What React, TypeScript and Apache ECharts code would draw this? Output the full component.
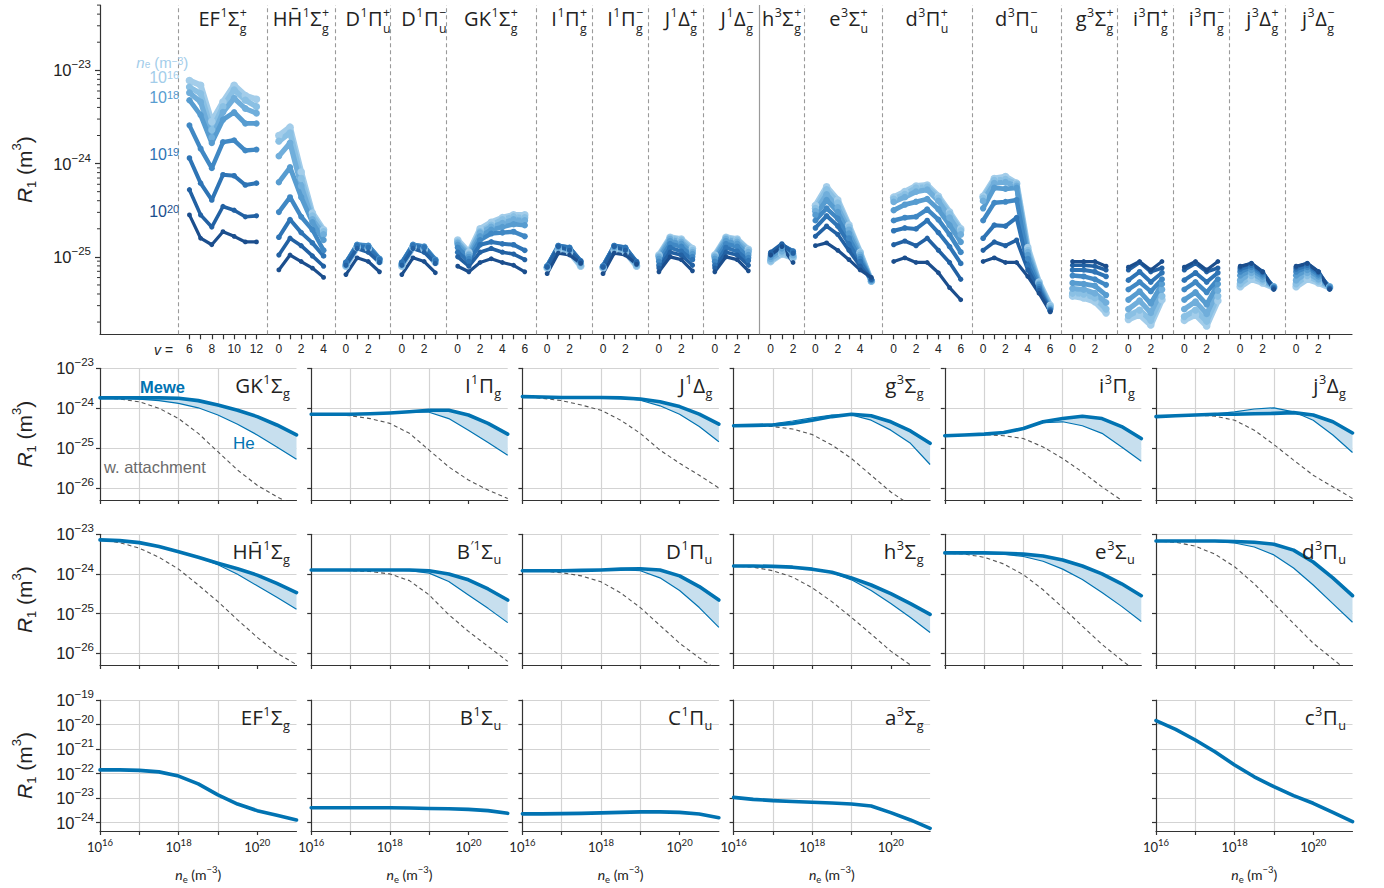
import React, { useEffect, useRef } from "react";
import * as echarts from "echarts";

// ================= TOP PANEL DATA (log10 of R1 in m^3) =================
// rows: electron density levels 1e16, 1e17, 3e17, 1e18, 3e18, 1e19, 3e19, 1e20 m^-3
const NE_LEVELS = ["1e16", "1e17", "3e17", "1e18", "3e18", "1e19", "3e19", "1e20"];
const LEVEL_COLORS = ["#a3cdea", "#8ac0e4", "#70aedb", "#579cd0", "#4088c4", "#2e74b5", "#2261a3", "#1b4e8d"];
const LEVEL_WIDTHS = [6, 5.6, 5.2, 4.8, 4.4, 4.0, 3.6, 3.2];
const LABELLED_LEVELS = [
  { level: 0, exp: "16" },
  { level: 3, exp: "18" },
  { level: 5, exp: "19" },
  { level: 7, exp: "20" },
];

const STATE_TITLES = [
  "EF^1Σ_g^+", "HH\u0304^1Σ_g^+", "D^1Π_u^+", "D^1Π_u^−", "GK^1Σ_g^+", "I^1Π_g^+", "I^1Π_g^−",
  "J^1Δ_g^+", "J^1Δ_g^−", "h^3Σ_g^+", "e^3Σ_u^+", "d^3Π_u^+", "d^3Π_u^−", "g^3Σ_g^+",
  "i^3Π_g^+", "i^3Π_g^−", "j^3Δ_g^+", "j^3Δ_g^−",
];
const STATE_V = [
  [6, 7, 8, 9, 10, 11, 12], [0, 1, 2, 3, 4], [0, 1, 2, 3], [0, 1, 2, 3], [0, 1, 2, 3, 4, 5, 6],
  [0, 1, 2, 3], [0, 1, 2, 3], [0, 1, 2, 3], [0, 1, 2, 3], [0, 1, 2], [0, 1, 2, 3, 4, 5],
  [0, 1, 2, 3, 4, 5, 6], [0, 1, 2, 3, 4, 5, 6], [0, 1, 2, 3], [0, 1, 2, 3], [0, 1, 2, 3],
  [0, 1, 2, 3], [0, 1, 2, 3],
];
const SINGLET_TRIPLET_BOUNDARY = 9; // solid separator before h3Σ

const LOG_R1_EF = [
  [-23.11, -23.16, -23.55, -23.34, -23.16, -23.27, -23.31],
  [-23.18, -23.25, -23.64, -23.39, -23.21, -23.32, -23.39],
  [-23.24, -23.34, -23.72, -23.45, -23.30, -23.41, -23.46],
  [-23.32, -23.48, -23.78, -23.53, -23.45, -23.57, -23.57],
  [-23.59, -23.84, -24.05, -23.77, -23.75, -23.86, -23.85],
  [-23.94, -24.21, -24.39, -24.12, -24.13, -24.23, -24.21],
  [-24.28, -24.55, -24.68, -24.46, -24.50, -24.57, -24.56],
  [-24.55, -24.80, -24.87, -24.73, -24.78, -24.84, -24.84],
];
const LOG_R1_HH = [
  [-23.70, -23.61, -24.09, -24.53, -24.71],
  [-23.76, -23.67, -24.16, -24.56, -24.73],
  [-23.92, -23.78, -24.24, -24.60, -24.76],
  [-24.20, -24.04, -24.36, -24.63, -24.82],
  [-24.52, -24.36, -24.57, -24.71, -24.93],
  [-24.79, -24.60, -24.74, -24.85, -24.99],
  [-24.98, -24.80, -24.88, -24.99, -25.10],
  [-25.14, -24.98, -25.05, -25.12, -25.22],
];
const LOG_R1_D_PLUS = [
  [-25.10, -24.90, -24.91, -25.05],
  [-25.09, -24.89, -24.90, -25.04],
  [-25.09, -24.88, -24.89, -25.03],
  [-25.07, -24.87, -24.88, -25.02],
  [-25.06, -24.87, -24.88, -25.02],
  [-25.06, -24.88, -24.90, -25.03],
  [-25.09, -24.91, -24.95, -25.06],
  [-25.19, -25.01, -25.05, -25.16],
];
const LOG_R1_D_MINUS = [
  [-25.10, -24.90, -24.92, -25.06],
  [-25.09, -24.89, -24.91, -25.05],
  [-25.08, -24.88, -24.90, -25.04],
  [-25.07, -24.87, -24.89, -25.03],
  [-25.06, -24.87, -24.89, -25.03],
  [-25.06, -24.88, -24.90, -25.04],
  [-25.09, -24.91, -24.95, -25.07],
  [-25.19, -25.01, -25.05, -25.17],
];
const LOG_R1_GK = [
  [-24.82, -24.95, -24.70, -24.63, -24.58, -24.55, -24.55],
  [-24.84, -24.97, -24.73, -24.66, -24.60, -24.57, -24.58],
  [-24.85, -24.98, -24.74, -24.68, -24.64, -24.60, -24.61],
  [-24.87, -25.00, -24.78, -24.71, -24.68, -24.65, -24.66],
  [-24.90, -25.02, -24.82, -24.75, -24.74, -24.73, -24.78],
  [-24.95, -25.05, -24.87, -24.84, -24.86, -24.87, -24.93],
  [-25.00, -25.10, -24.95, -24.91, -24.95, -24.97, -25.03],
  [-25.10, -25.16, -25.06, -25.02, -25.06, -25.09, -25.16],
];
const LOG_R1_I_PLUS = [
  [-25.12, -24.93, -24.95, -25.10],
  [-25.11, -24.91, -24.94, -25.09],
  [-25.11, -24.90, -24.93, -25.07],
  [-25.10, -24.89, -24.91, -25.06],
  [-25.10, -24.88, -24.90, -25.05],
  [-25.10, -24.88, -24.90, -25.04],
  [-25.11, -24.89, -24.93, -25.05],
  [-25.18, -24.96, -24.98, -25.07],
];
const LOG_R1_I_MINUS = [
  [-25.12, -24.93, -24.95, -25.10],
  [-25.11, -24.91, -24.94, -25.09],
  [-25.11, -24.90, -24.93, -25.08],
  [-25.10, -24.89, -24.91, -25.07],
  [-25.10, -24.88, -24.90, -25.06],
  [-25.10, -24.88, -24.90, -25.05],
  [-25.11, -24.89, -24.93, -25.06],
  [-25.18, -24.96, -24.98, -25.08],
];
const LOG_R1_J_PLUS = [
  [-24.98, -24.79, -24.81, -24.91],
  [-24.99, -24.80, -24.82, -24.93],
  [-25.00, -24.81, -24.84, -24.95],
  [-25.02, -24.83, -24.86, -24.97],
  [-25.05, -24.86, -24.89, -25.00],
  [-25.09, -24.90, -24.94, -25.03],
  [-25.12, -24.95, -24.98, -25.09],
  [-25.16, -25.00, -25.03, -25.15],
];
const LOG_R1_J_MINUS = [
  [-24.98, -24.79, -24.81, -24.92],
  [-24.99, -24.80, -24.82, -24.93],
  [-25.00, -24.81, -24.84, -24.95],
  [-25.02, -24.83, -24.86, -24.98],
  [-25.05, -24.86, -24.89, -25.01],
  [-25.09, -24.90, -24.94, -25.04],
  [-25.12, -24.95, -24.98, -25.09],
  [-25.16, -25.00, -25.03, -25.15],
];
const LOG_R1_h = [
  [-25.05, -24.97, -25.01],
  [-25.04, -24.96, -25.00],
  [-25.02, -24.94, -24.98],
  [-25.00, -24.91, -24.96],
  [-24.98, -24.88, -24.94],
  [-24.96, -24.87, -24.94],
  [-24.95, -24.86, -24.96],
  [-24.98, -24.89, -25.06],
];
const LOG_R1_e = [
  [-24.45, -24.25, -24.39, -24.66, -24.95, -25.26],
  [-24.48, -24.28, -24.42, -24.68, -24.96, -25.26],
  [-24.51, -24.33, -24.47, -24.71, -24.98, -25.26],
  [-24.55, -24.39, -24.52, -24.75, -25.00, -25.25],
  [-24.61, -24.48, -24.59, -24.80, -25.02, -25.25],
  [-24.69, -24.56, -24.67, -24.86, -25.05, -25.24],
  [-24.78, -24.67, -24.76, -24.93, -25.10, -25.24],
  [-24.88, -24.85, -24.93, -25.03, -25.14, -25.22],
];
const LOG_R1_d_PLUS = [
  [-24.36, -24.30, -24.24, -24.23, -24.35, -24.52, -24.70],
  [-24.38, -24.33, -24.26, -24.25, -24.37, -24.54, -24.72],
  [-24.41, -24.36, -24.30, -24.28, -24.40, -24.58, -24.76],
  [-24.50, -24.44, -24.41, -24.38, -24.49, -24.66, -24.84],
  [-24.61, -24.58, -24.57, -24.49, -24.60, -24.76, -24.95],
  [-24.72, -24.69, -24.70, -24.61, -24.74, -24.89, -25.07],
  [-24.87, -24.83, -24.88, -24.80, -24.93, -25.06, -25.24],
  [-25.05, -25.01, -25.06, -25.06, -25.17, -25.33, -25.46],
];
const LOG_R1_d_MINUS = [
  [-24.35, -24.16, -24.14, -24.21, -24.90, -25.27, -25.52],
  [-24.37, -24.18, -24.17, -24.22, -24.93, -25.28, -25.53],
  [-24.40, -24.21, -24.20, -24.24, -24.95, -25.29, -25.55],
  [-24.48, -24.26, -24.27, -24.26, -24.98, -25.30, -25.56],
  [-24.61, -24.42, -24.41, -24.39, -25.02, -25.32, -25.57],
  [-24.80, -24.66, -24.67, -24.58, -25.09, -25.34, -25.57],
  [-24.93, -24.84, -24.88, -24.82, -25.14, -25.36, -25.58],
  [-25.05, -25.01, -25.06, -25.06, -25.21, -25.39, -25.59],
];
const LOG_R1_g = [
  [-25.42, -25.44, -25.48, -25.60],
  [-25.39, -25.40, -25.44, -25.56],
  [-25.34, -25.35, -25.39, -25.49],
  [-25.28, -25.29, -25.31, -25.41],
  [-25.20, -25.21, -25.24, -25.30],
  [-25.14, -25.14, -25.16, -25.21],
  [-25.09, -25.09, -25.10, -25.14],
  [-25.05, -25.05, -25.05, -25.10],
];
const LOG_R1_i_PLUS = [
  [-25.67, -25.62, -25.73, -25.46],
  [-25.63, -25.57, -25.68, -25.42],
  [-25.56, -25.47, -25.60, -25.35],
  [-25.46, -25.37, -25.50, -25.29],
  [-25.35, -25.27, -25.37, -25.24],
  [-25.25, -25.16, -25.27, -25.17],
  [-25.14, -25.06, -25.16, -25.12],
  [-25.11, -25.05, -25.14, -25.05],
];
const LOG_R1_i_MINUS = [
  [-25.68, -25.62, -25.74, -25.47],
  [-25.64, -25.57, -25.69, -25.42],
  [-25.56, -25.48, -25.61, -25.36],
  [-25.46, -25.38, -25.51, -25.29],
  [-25.35, -25.27, -25.38, -25.24],
  [-25.25, -25.17, -25.27, -25.17],
  [-25.14, -25.07, -25.16, -25.12],
  [-25.11, -25.05, -25.14, -25.05],
];
const LOG_R1_j_PLUS = [
  [-25.32, -25.24, -25.28, -25.33],
  [-25.29, -25.20, -25.26, -25.32],
  [-25.25, -25.17, -25.24, -25.32],
  [-25.20, -25.14, -25.21, -25.32],
  [-25.16, -25.11, -25.19, -25.33],
  [-25.13, -25.09, -25.17, -25.33],
  [-25.11, -25.07, -25.16, -25.34],
  [-25.10, -25.07, -25.16, -25.35],
];
const LOG_R1_j_MINUS = [
  [-25.32, -25.24, -25.28, -25.33],
  [-25.29, -25.20, -25.26, -25.32],
  [-25.25, -25.17, -25.24, -25.32],
  [-25.20, -25.14, -25.21, -25.32],
  [-25.16, -25.11, -25.19, -25.33],
  [-25.13, -25.09, -25.17, -25.34],
  [-25.11, -25.07, -25.16, -25.34],
  [-25.10, -25.07, -25.16, -25.35],
];
const STATE_DATA = [
  LOG_R1_EF, LOG_R1_HH, LOG_R1_D_PLUS, LOG_R1_D_MINUS, LOG_R1_GK, LOG_R1_I_PLUS, LOG_R1_I_MINUS,
  LOG_R1_J_PLUS, LOG_R1_J_MINUS, LOG_R1_h, LOG_R1_e, LOG_R1_d_PLUS, LOG_R1_d_MINUS, LOG_R1_g,
  LOG_R1_i_PLUS, LOG_R1_i_MINUS, LOG_R1_j_PLUS, LOG_R1_j_MINUS,
];

// ================= SMALL PANELS DATA (log10 ne and log10 R1) =================
const LOG_NE = [16, 16.5, 17, 17.5, 18, 18.5, 19, 19.5, 20, 20.5, 21];

const GK_MEWE = [-23.74, -23.74, -23.74, -23.74, -23.75, -23.81, -23.92, -24.05, -24.21, -24.42, -24.67];
const GK_HE = [-23.74, -23.74, -23.77, -23.81, -23.88, -23.99, -24.17, -24.40, -24.67, -24.97, -25.28];
const GK_ATT = [-23.74, -23.77, -23.84, -24.00, -24.26, -24.63, -25.09, -25.55, -25.93, -26.22, -26.47];

const I1_MEWE = [-24.15, -24.15, -24.15, -24.14, -24.12, -24.09, -24.05, -24.05, -24.17, -24.38, -24.65];
const I1_HE = [-24.15, -24.15, -24.15, -24.14, -24.12, -24.10, -24.10, -24.26, -24.55, -24.86, -25.18];
const I1_ATT = [-24.15, -24.15, -24.19, -24.26, -24.38, -24.63, -25.05, -25.47, -25.80, -26.05, -26.26];

const J1_MEWE = [-23.71, -23.72, -23.73, -23.73, -23.73, -23.74, -23.77, -23.84, -23.96, -24.15, -24.40];
const J1_HE = [-23.71, -23.72, -23.73, -23.73, -23.73, -23.74, -23.80, -23.94, -24.15, -24.46, -24.84];
const J1_ATT = [-23.71, -23.75, -23.81, -23.92, -24.05, -24.30, -24.63, -25.05, -25.38, -25.68, -26.00];

const G3_MEWE = [-24.44, -24.43, -24.42, -24.38, -24.30, -24.21, -24.15, -24.19, -24.34, -24.57, -24.88];
const G3_HE = [-24.44, -24.42, -24.39, -24.32, -24.24, -24.17, -24.17, -24.30, -24.55, -24.88, -25.41];
const G3_ATT = [-24.44, -24.45, -24.46, -24.52, -24.66, -24.92, -25.26, -25.68, -26.10, -26.43, -26.77];

const I3_MEWE = [-24.69, -24.67, -24.65, -24.61, -24.51, -24.34, -24.26, -24.20, -24.26, -24.46, -24.76];
const I3_HE = [-24.69, -24.67, -24.65, -24.61, -24.51, -24.36, -24.34, -24.44, -24.63, -24.97, -25.33];
const I3_ATT = [-24.69, -24.67, -24.66, -24.69, -24.76, -24.97, -25.26, -25.60, -25.97, -26.31, -26.60];

const J3_MEWE = [-24.21, -24.19, -24.17, -24.15, -24.15, -24.14, -24.13, -24.11, -24.17, -24.34, -24.62];
const J3_HE = [-24.21, -24.19, -24.17, -24.14, -24.09, -24.02, -23.99, -24.09, -24.30, -24.67, -25.11];
const J3_ATT = [-24.21, -24.19, -24.17, -24.20, -24.30, -24.55, -24.91, -25.30, -25.68, -25.97, -26.26];

const HH_MEWE = [-23.14, -23.16, -23.21, -23.31, -23.44, -23.58, -23.73, -23.87, -24.03, -24.24, -24.47];
const HH_HE = [-23.14, -23.16, -23.21, -23.31, -23.44, -23.58, -23.77, -24.01, -24.30, -24.59, -24.89];
const HH_ATT = [-23.14, -23.21, -23.35, -23.58, -23.88, -24.28, -24.70, -25.16, -25.60, -26.00, -26.29];

const BP_MEWE = [-23.90, -23.90, -23.90, -23.90, -23.90, -23.90, -23.92, -24.00, -24.15, -24.38, -24.66];
const BP_HE = [-23.90, -23.90, -23.90, -23.90, -23.90, -23.92, -23.98, -24.19, -24.53, -24.87, -25.23];
const BP_ATT = [-23.90, -23.90, -23.92, -23.94, -24.00, -24.17, -24.53, -25.03, -25.45, -25.83, -26.21];

const D1_MEWE = [-23.92, -23.92, -23.92, -23.91, -23.90, -23.88, -23.87, -23.90, -24.05, -24.32, -24.66];
const D1_HE = [-23.92, -23.92, -23.92, -23.91, -23.90, -23.89, -23.92, -24.10, -24.42, -24.85, -25.35];
const D1_ATT = [-23.92, -23.93, -23.97, -24.05, -24.20, -24.48, -24.85, -25.30, -25.75, -26.12, -26.45];

const H3_MEWE = [-23.80, -23.80, -23.81, -23.83, -23.88, -23.96, -24.10, -24.28, -24.50, -24.75, -25.02];
const H3_HE = [-23.80, -23.80, -23.81, -23.83, -23.88, -23.97, -24.15, -24.42, -24.75, -25.10, -25.48];
const H3_ATT = [-23.80, -23.83, -23.92, -24.08, -24.35, -24.70, -25.10, -25.52, -25.95, -26.30, -26.65];

const E3_MEWE = [-23.47, -23.47, -23.47, -23.48, -23.50, -23.55, -23.65, -23.80, -24.00, -24.25, -24.55];
const E3_HE = [-23.47, -23.47, -23.48, -23.50, -23.56, -23.68, -23.88, -24.14, -24.47, -24.82, -25.20];
const E3_ATT = [-23.47, -23.50, -23.58, -23.75, -24.02, -24.40, -24.85, -25.32, -25.78, -26.18, -26.55];

const D3_MEWE = [-23.17, -23.17, -23.17, -23.17, -23.18, -23.20, -23.25, -23.40, -23.70, -24.10, -24.55];
const D3_HE = [-23.17, -23.17, -23.17, -23.18, -23.22, -23.32, -23.52, -23.85, -24.28, -24.75, -25.22];
const D3_ATT = [-23.17, -23.20, -23.30, -23.50, -23.82, -24.25, -24.75, -25.25, -25.75, -26.15, -26.55];

const EF_TOTAL = [-21.85, -21.85, -21.87, -21.93, -22.10, -22.42, -22.87, -23.24, -23.51, -23.70, -23.89];
const B1_TOTAL = [-23.39, -23.39, -23.39, -23.39, -23.39, -23.40, -23.42, -23.43, -23.46, -23.51, -23.62];
const C1_TOTAL = [-23.64, -23.64, -23.63, -23.62, -23.60, -23.58, -23.56, -23.56, -23.58, -23.65, -23.80];
const A3_TOTAL = [-22.97, -23.05, -23.10, -23.14, -23.17, -23.20, -23.24, -23.32, -23.59, -23.89, -24.23];
const C3_TOTAL = [-19.84, -20.20, -20.63, -21.11, -21.65, -22.13, -22.53, -22.90, -23.21, -23.58, -23.96];

const PANELS = [
  { row: 0, col: 0, title: "GK^1Σ_g", mewe: GK_MEWE, he: GK_HE, att: GK_ATT },
  { row: 0, col: 1, title: "I^1Π_g", mewe: I1_MEWE, he: I1_HE, att: I1_ATT },
  { row: 0, col: 2, title: "J^1Δ_g", mewe: J1_MEWE, he: J1_HE, att: J1_ATT },
  { row: 0, col: 3, title: "g^3Σ_g", mewe: G3_MEWE, he: G3_HE, att: G3_ATT },
  { row: 0, col: 4, title: "i^3Π_g", mewe: I3_MEWE, he: I3_HE, att: I3_ATT },
  { row: 0, col: 5, title: "j^3Δ_g", mewe: J3_MEWE, he: J3_HE, att: J3_ATT },
  { row: 1, col: 0, title: "HH\u0304^1Σ_g", mewe: HH_MEWE, he: HH_HE, att: HH_ATT },
  { row: 1, col: 1, title: "B^{′1}Σ_u", mewe: BP_MEWE, he: BP_HE, att: BP_ATT },
  { row: 1, col: 2, title: "D^1Π_u", mewe: D1_MEWE, he: D1_HE, att: D1_ATT },
  { row: 1, col: 3, title: "h^3Σ_g", mewe: H3_MEWE, he: H3_HE, att: H3_ATT },
  { row: 1, col: 4, title: "e^3Σ_u", mewe: E3_MEWE, he: E3_HE, att: E3_ATT },
  { row: 1, col: 5, title: "d^3Π_u", mewe: D3_MEWE, he: D3_HE, att: D3_ATT },
  { row: 2, col: 0, title: "EF^1Σ_g", total: EF_TOTAL },
  { row: 2, col: 1, title: "B^1Σ_u", total: B1_TOTAL },
  { row: 2, col: 2, title: "C^1Π_u", total: C1_TOTAL },
  { row: 2, col: 3, title: "a^3Σ_g", total: A3_TOTAL },
  { row: 2, col: 5, title: "c^3Π_u", total: C3_TOTAL },
];

// tick values of the y axes
const TOP_Y_TICKS = [1e-25, 1e-24, 1e-23];
const ROW_Y_TICKS = [
  [1e-26, 1e-25, 1e-24, 1e-23],
  [1e-26, 1e-25, 1e-24, 1e-23],
  [1e-24, 1e-23, 1e-22, 1e-21, 1e-20, 1e-19],
];

// ================= LAYOUT / STYLE =================
const W = 1384;
const H = 888;
const UI_FONT = "Liberation Sans";
const TITLE_FONT = "Open Sans";
const BLUE = "#0173b2";
const BAND = "#c7dfee";
const AX = "#333333";
const GRID_C = "#d3d3d3";

const TOP = { left: 100, top: 5, right: 32, height: 329.3 };
const TOP_YMIN = Math.pow(10, -25.83);
const TOP_YMAX = Math.pow(10, -22.3);
const SLOT_MIN = -8;
const SLOT_MAX = 104;

const COL_LEFT = [100, 311.2, 522.4, 733.6, 944.8, 1156];
const PANEL_W = 196.5;
const ROW_TOP = [368.3, 534.3, 700];
const ROW_H = [131.7, 130.7, 131];
const ROW_YMIN = [Math.pow(10, -26.3), Math.pow(10, -26.3), Math.pow(10, -24.34)];
const ROW_YMAX = [1e-23, 1e-23, 1e-19];
const X_TICKS = [1e16, 1e17, 1e18, 1e19, 1e20];
const X_LABELS = [1e16, 1e18, 1e20];

// ---------- helpers ----------
function expLabel(v: number) {
  const e = Math.log10(v);
  const r = Math.round(e);
  if (Math.abs(e - r) > 0.02) return "";
  return `{a|10}{b|${r < 0 ? "−" : ""}${Math.abs(r)}}`;
}

let measureCtx: CanvasRenderingContext2D | null = null;
function textWidth(t: string, size: number, family: string) {
  if (!measureCtx) measureCtx = document.createElement("canvas").getContext("2d");
  measureCtx!.font = `${size}px "${family}"`;
  return measureCtx!.measureText(t).width;
}

type Tok = { t: string; k: "n" | "sup" | "sub" };
function parseTitle(s: string): Tok[] {
  const toks: Tok[] = [];
  let i = 0;
  while (i < s.length) {
    const c = s[i];
    if (c === "^" || c === "_") {
      const k = c === "^" ? "sup" : "sub";
      let t = "";
      if (s[i + 1] === "{") {
        const j = s.indexOf("}", i + 2);
        t = s.slice(i + 2, j);
        i = j + 1;
      } else {
        t = s[i + 1];
        i += 2;
      }
      toks.push({ t, k });
    } else {
      let j = i;
      while (j < s.length && s[j] !== "^" && s[j] !== "_") j++;
      toks.push({ t: s.slice(i, j), k: "n" });
      i = j;
    }
  }
  return toks;
}

function titleEls(src: string, anchorX: number, cy: number, size: number, align: "center" | "right", subDy: number) {
  const toks = parseTitle(src);
  const small = size * 0.62;
  const SUP = -0.3 * size;
  const SUB = subDy * size;
  const items: { t: string; x: number; dy: number; fs: number }[] = [];
  let x = 0;
  for (let i = 0; i < toks.length; i++) {
    const tk = toks[i];
    if (tk.k === "n") {
      items.push({ t: tk.t, x, dy: 0, fs: size });
      x += textWidth(tk.t, size, TITLE_FONT);
    } else if (tk.k === "sub" && toks[i + 1] && toks[i + 1].k === "sup") {
      const nx = toks[i + 1];
      items.push({ t: tk.t, x: x + 0.5, dy: SUB, fs: small });
      items.push({ t: nx.t, x: x + 0.5, dy: SUP, fs: small });
      x += Math.max(textWidth(tk.t, small, TITLE_FONT), textWidth(nx.t, small, TITLE_FONT)) + 1;
      i++;
    } else {
      items.push({ t: tk.t, x: x + 0.5, dy: tk.k === "sup" ? SUP : SUB, fs: small });
      x += textWidth(tk.t, small, TITLE_FONT) + 1;
    }
  }
  const x0 = align === "center" ? anchorX - x / 2 : anchorX - x;
  return items.map((it) => ({
    type: "text",
    silent: true,
    z: 100,
    x: x0 + it.x,
    y: cy + it.dy,
    style: {
      text: it.t,
      fontSize: it.fs,
      fontFamily: TITLE_FONT,
      fill: "#222",
      align: "left",
      verticalAlign: "middle",
      textAlign: "left",
      textVerticalAlign: "middle",
    },
  }));
}

function layoutSlots() {
  const starts: number[] = [];
  let s = 0;
  STATE_V.forEach((vs) => {
    starts.push(s);
    s += vs.length + 1;
  });
  return starts;
}

const R1_RICH = {
  i: { fontStyle: "italic", fontSize: 21, fontFamily: UI_FONT, color: "#222", lineHeight: 28, verticalAlign: "middle" },
  n: { fontSize: 21, fontFamily: UI_FONT, color: "#222", lineHeight: 28, verticalAlign: "middle" },
  s: { fontSize: 13, fontFamily: UI_FONT, color: "#222", lineHeight: 14, verticalAlign: "bottom" },
  p: { fontSize: 13, fontFamily: UI_FONT, color: "#222", lineHeight: 14, verticalAlign: "top" },
};
const R1_NAME_FULL = "{i|R}{s|1}{n| (m}{p|3}{n|)}";

function buildOption() {
  const starts = layoutSlots();
  const n = SLOT_MAX - SLOT_MIN + 1;
  const cats: string[] = [];
  const tickShow: boolean[] = [];
  const labelText: string[] = [];
  for (let i = 0; i < n; i++) {
    cats.push(String(i + SLOT_MIN));
    tickShow.push(false);
    labelText.push("");
  }
  STATE_V.forEach((vs, g) =>
    vs.forEach((v, k) => {
      const ci = starts[g] + k - SLOT_MIN;
      tickShow[ci] = true;
      labelText[ci] = v % 2 === 0 ? String(v) : "";
    })
  );

  const grids: any[] = [{ left: TOP.left, top: TOP.top, right: TOP.right, height: TOP.height, containLabel: false, outerBoundsMode: "none" }];
  const xAxes: any[] = [
    {
      type: "category",
      gridIndex: 0,
      data: cats,
      boundaryGap: false,
      axisLine: { show: true, onZero: false, lineStyle: { color: AX, width: 1.2 } },
      axisTick: { show: true, length: 5, interval: (i: number) => tickShow[i], lineStyle: { color: AX, width: 1.2 } },
      axisLabel: {
        show: true,
        interval: (i: number) => labelText[i] !== "",
        margin: 9,
        fontSize: 12,
        fontFamily: UI_FONT,
        color: "#222",
        formatter: (_v: string, i: number) => labelText[i],
      },
      splitLine: { show: false },
    },
  ];
  const yAxes: any[] = [
    {
      type: "log",
      gridIndex: 0,
      logBase: 10,
      min: TOP_YMIN,
      max: TOP_YMAX,
      axisLine: { show: true, onZero: false, lineStyle: { color: AX, width: 1.2 } },
      axisTick: { show: true, length: 5, lineStyle: { color: AX, width: 1.2 } },
      axisLabel: { show: false },
      splitLine: { show: false },
      name: R1_NAME_FULL,
      nameLocation: "middle",
      nameGap: 62,
      nameRotate: 90,
      nameTextStyle: { rich: R1_RICH },
    },
  ];
  const series: any[] = [];

  // separators
  const seps = starts.map((st) => st - 1 - SLOT_MIN);
  const sepData = seps.map((ci, g) => ({
    xAxis: ci,
    lineStyle:
      g === SINGLET_TRIPLET_BOUNDARY
        ? { type: "solid", color: "#9a9a9a", width: 1.2 }
        : { type: [4, 3], color: "#9a9a9a", width: 1.1 },
  }));

  NE_LEVELS.forEach((_ne, L) => {
    const data: any[] = new Array(n).fill("-");
    STATE_DATA.forEach((arr, g) =>
      arr[L].forEach((lv, k) => {
        data[starts[g] + k - SLOT_MIN] = Math.pow(10, lv);
      })
    );
    const s: any = {
      type: "line",
      name: "ne " + NE_LEVELS[L],
      xAxisIndex: 0,
      yAxisIndex: 0,
      data,
      connectNulls: false,
      symbol: "circle",
      symbolSize: LEVEL_WIDTHS[L] + 1.6,
      showSymbol: true,
      showAllSymbol: true,
      lineStyle: { color: LEVEL_COLORS[L], width: LEVEL_WIDTHS[L] },
      itemStyle: { color: LEVEL_COLORS[L] },
      emphasis: { disabled: true },
      silent: true,
      z: 3,
    };
    if (L === 0) {
      s.markLine = {
        silent: true,
        symbol: ["none", "none"],
        label: { show: false },
        animation: false,
        z: 1,
        data: sepData,
      };
    }
    series.push(s);
  });

  // small panels
  PANELS.forEach((p, idx) => {
    const gi = idx + 1;
    const r = p.row;
    grids.push({ left: COL_LEFT[p.col], top: ROW_TOP[r], width: PANEL_W, height: ROW_H[r], containLabel: false, outerBoundsMode: "none" });
    xAxes.push({
      type: "log",
      gridIndex: gi,
      logBase: 10,
      min: 1e16,
      max: 1e21,
      axisLine: { show: true, onZero: false, lineStyle: { color: AX, width: 1.2 } },
      axisTick: { show: true, length: 4, customValues: X_TICKS, lineStyle: { color: AX, width: 1.2 } },
      axisLabel: {
        show: r === 2,
        customValues: X_LABELS,
        margin: 6,
        formatter: expLabel,
        rich: {
          a: { fontSize: 13, fontFamily: "Lato", color: "#222", lineHeight: 20, verticalAlign: "middle" },
          b: { fontSize: 9.5, fontFamily: "Lato", color: "#222", lineHeight: 10, verticalAlign: "top" },
        },
      },
      splitLine: { show: true, showMinLine: false, showMaxLine: false, lineStyle: { color: GRID_C, width: 1.2 } },
      name: r === 2 ? "{i|n}{s|e}{n| (m}{p|−3}{n|)}" : "",
      nameLocation: "middle",
      nameGap: 33,
      nameTextStyle: {
        rich: {
          i: { fontStyle: "italic", fontSize: 14, fontFamily: "Lato", color: "#222", lineHeight: 20, verticalAlign: "middle" },
          n: { fontSize: 14, fontFamily: "Lato", color: "#222", lineHeight: 20, verticalAlign: "middle" },
          s: { fontSize: 9.5, fontFamily: "Lato", color: "#222", lineHeight: 11, verticalAlign: "bottom" },
          p: { fontSize: 9.5, fontFamily: "Lato", color: "#222", lineHeight: 11, verticalAlign: "top" },
        },
      },
    });
    yAxes.push({
      type: "log",
      gridIndex: gi,
      logBase: 10,
      min: ROW_YMIN[r],
      max: ROW_YMAX[r],
      axisLine: { show: true, onZero: false, lineStyle: { color: AX, width: 1.2 } },
      axisTick: { show: true, length: 4, lineStyle: { color: AX, width: 1.2 } },
      axisLabel: { show: false },
      splitLine: { show: true, showMinLine: false, lineStyle: { color: GRID_C, width: 1.2 } },
      name: p.col === 0 ? R1_NAME_FULL : "",
      nameLocation: "middle",
      nameGap: 62,
      nameRotate: 90,
      nameTextStyle: { rich: R1_RICH },
    });

    const toPairs = (arr: number[]) => LOG_NE.map((x, i) => [Math.pow(10, x), Math.pow(10, arr[i])]);
    const lineCommon = { smooth: false, showSymbol: false, silent: true, xAxisIndex: gi, yAxisIndex: gi };
    if (p.mewe) {
      const mewe = p.mewe;
      const he = p.he!;
      series.push({
        type: "custom",
        xAxisIndex: gi,
        yAxisIndex: gi,
        silent: true,
        z: 1,
        data: [[1e18, 1e-24]],
        renderItem: (_params: any, api: any) => {
          const top = mewe.map((v, i) => api.coord([Math.pow(10, LOG_NE[i]), Math.pow(10, v)]));
          const bot = he.map((v, i) => api.coord([Math.pow(10, LOG_NE[i]), Math.pow(10, v)])).reverse();
          return { type: "polygon", shape: { points: top.concat(bot) }, style: { fill: BAND, stroke: "none" } };
        },
      });
      series.push({ type: "line", name: "attachment", data: toPairs(p.att!), z: 2, lineStyle: { color: "#555", width: 1.1, type: [4, 3] }, ...lineCommon });
      series.push({ type: "line", name: "He", data: toPairs(he), z: 3, lineStyle: { color: BLUE, width: 1.2 }, ...lineCommon });
      series.push({ type: "line", name: "Mewe", data: toPairs(mewe), z: 4, lineStyle: { color: BLUE, width: 3.6, join: "round", cap: "round" }, ...lineCommon });
    } else {
      series.push({ type: "line", name: "total", data: toPairs(p.total!), z: 4, lineStyle: { color: BLUE, width: 3.6, join: "round", cap: "round" }, ...lineCommon });
    }
  });

  return {
    animation: false,
    backgroundColor: "#ffffff",
    textStyle: { fontFamily: UI_FONT },
    grid: grids,
    xAxis: xAxes,
    yAxis: yAxes,
    series,
  };
}

function yTickLabel(x: number, y: number, v: number) {
  return {
    type: "text",
    silent: true,
    z: 100,
    x,
    y,
    style: {
      text: expLabel(v),
      align: "right",
      verticalAlign: "middle",
      textAlign: "right",
      textVerticalAlign: "middle",
      rich: {
        a: { fontSize: 16.5, fontFamily: UI_FONT, fill: "#222", color: "#222", lineHeight: 24, verticalAlign: "middle" },
        b: { fontSize: 11.5, fontFamily: UI_FONT, fill: "#222", color: "#222", lineHeight: 12, verticalAlign: "top" },
      },
    },
  };
}

function buildGraphics(chart: any) {
  const starts = layoutSlots();
  const els: any[] = [];

  // state titles above the groups
  STATE_TITLES.forEach((t, g) => {
    const cIdx = starts[g] + (STATE_V[g].length - 1) / 2 - SLOT_MIN;
    const cx = chart.convertToPixel({ xAxisIndex: 0 }, cIdx);
    els.push(...titleEls(t, cx, 18, 20, "center", 0.5));
  });

  // y tick labels (top panel and first column of small panels)
  TOP_Y_TICKS.forEach((v) => {
    const py = chart.convertToPixel({ yAxisIndex: 0 }, v);
    els.push(yTickLabel(TOP.left - 9, py, v));
  });
  PANELS.forEach((p, idx) => {
    if (p.col !== 0) return;
    ROW_Y_TICKS[p.row].forEach((v) => {
      const py = chart.convertToPixel({ yAxisIndex: idx + 1 }, v);
      els.push(yTickLabel(COL_LEFT[0] - 6, py, v));
    });
  });

  // minor ticks on the log axis of the top panel
  for (let e = -26; e <= -23; e++) {
    for (let k = 2; k <= 9; k++) {
      const v = k * Math.pow(10, e);
      const lv = Math.log10(v);
      if (lv <= -25.83 || lv >= -22.3) continue;
      const py = chart.convertToPixel({ yAxisIndex: 0 }, v);
      els.push({ type: "line", silent: true, z: 50, shape: { x1: TOP.left - 3, y1: py, x2: TOP.left, y2: py }, style: { stroke: AX, lineWidth: 1 } });
    }
  }

  // density labels next to the EF group (at v=6)
  const sepX = chart.convertToPixel({ xAxisIndex: 0 }, starts[0] - 1 - SLOT_MIN);
  LABELLED_LEVELS.forEach(({ level, exp }) => {
    const py = chart.convertToPixel({ yAxisIndex: 0 }, Math.pow(10, LOG_R1_EF[level][0]));
    const col = LEVEL_COLORS[level];
    els.push({
      type: "text",
      silent: true,
      z: 100,
      x: sepX + 1,
      y: py - 3,
      style: {
        text: `{a|10}{b|${exp}}`,
        align: "right",
        verticalAlign: "middle",
        textAlign: "right",
        textVerticalAlign: "middle",
        rich: {
          a: { fontSize: 16, fontFamily: UI_FONT, fill: col, color: col, lineHeight: 16, verticalAlign: "bottom" },
          b: { fontSize: 11, fontFamily: UI_FONT, fill: col, color: col, lineHeight: 8, verticalAlign: "top" },
        },
      },
    });
  });
  {
    const py = chart.convertToPixel({ yAxisIndex: 0 }, Math.pow(10, LOG_R1_EF[0][0]));
    const col = LEVEL_COLORS[0];
    els.push({
      type: "text",
      silent: true,
      z: 100,
      x: sepX + 10,
      y: py - 18,
      style: {
        text: "{i|n}{s|e}{n| (m}{p|−3}{n|)}",
        align: "right",
        verticalAlign: "middle",
        textAlign: "right",
        textVerticalAlign: "middle",
        rich: {
          i: { fontStyle: "italic", fontSize: 15, fontFamily: UI_FONT, fill: col, color: col, lineHeight: 13, verticalAlign: "middle" },
          n: { fontSize: 15, fontFamily: UI_FONT, fill: col, color: col, lineHeight: 13, verticalAlign: "middle" },
          s: { fontSize: 10, fontFamily: UI_FONT, fill: col, color: col, lineHeight: 8, verticalAlign: "bottom" },
          p: { fontSize: 10, fontFamily: UI_FONT, fill: col, color: col, lineHeight: 8, verticalAlign: "top" },
        },
      },
    });
  }

  // "v =" label
  els.push({
    type: "text",
    silent: true,
    z: 100,
    x: 173,
    y: 350,
    style: { text: "v =", fontSize: 14, fontFamily: UI_FONT, fontStyle: "italic", fill: "#222", align: "right", verticalAlign: "middle", textAlign: "right", textVerticalAlign: "middle" },
  });

  // small panel titles
  PANELS.forEach((p) => {
    const right = COL_LEFT[p.col] + PANEL_W - 6;
    const cy = ROW_TOP[p.row] + 17;
    els.push(...titleEls(p.title, right, cy, 20.5, "right", 0.38));
  });

  // annotations in the first panel
  const gl = COL_LEFT[0];
  const gt = ROW_TOP[0];
  els.push({
    type: "text", silent: true, z: 100, x: gl + 40, y: gt + 19,
    style: { text: "Mewe", fontSize: 16.5, fontWeight: "bold", fontFamily: UI_FONT, fill: BLUE, align: "left", verticalAlign: "middle", textAlign: "left", textVerticalAlign: "middle" },
  });
  els.push({
    type: "text", silent: true, z: 100, x: gl + 133, y: gt + 75,
    style: { text: "He", fontSize: 17, fontFamily: UI_FONT, fill: BLUE, align: "left", verticalAlign: "middle", textAlign: "left", textVerticalAlign: "middle" },
  });
  els.push({
    type: "text", silent: true, z: 100, x: gl + 4, y: gt + 99,
    style: { text: "w. attachment", fontSize: 16.5, fontFamily: UI_FONT, fill: "#6b6b6b", align: "left", verticalAlign: "middle", textAlign: "left", textVerticalAlign: "middle" },
  });
  return els;
}

export default function App() {
  const ref = useRef<HTMLDivElement>(null);
  useEffect(() => {
    const el = ref.current;
    if (!el) return;
    const chart = echarts.init(el, null, { renderer: "svg" });
    chart.setOption(buildOption() as any);
    chart.setOption({ graphic: { elements: buildGraphics(chart) } } as any);
    return () => chart.dispose();
  }, []);
  return (
    <div
      ref={ref}
      style={{ position: "fixed", left: 0, top: 0, width: W, height: H, background: "#ffffff" }}
    />
  );
}
